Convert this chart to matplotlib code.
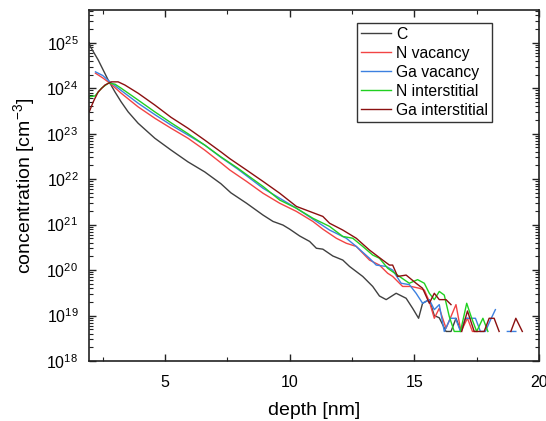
import numpy as np
import matplotlib
matplotlib.use("Agg")
from matplotlib import pyplot as plt
from matplotlib.ticker import LogLocator, MultipleLocator, NullFormatter

plt.rcParams['font.family'] = ['Liberation Sans', 'DejaVu Sans']
plt.rcParams['mathtext.fontset'] = 'custom'
plt.rcParams['mathtext.rm'] = 'Liberation Sans'
plt.rcParams['mathtext.it'] = 'Liberation Sans:italic'

nan = float('nan')

# depth [nm] and log10(concentration [cm^-3])
c_x = [1.96, 2.0, 2.32, 2.72, 2.99, 3.24, 3.52, 3.92, 4.59, 5.24, 5.92, 6.59,
       7.24, 7.64, 8.27, 8.93, 9.33, 9.73, 10.0, 10.4, 10.8, 11.07, 11.33,
       11.73, 12.13, 12.4, 12.93, 13.33, 13.6, 13.87, 14.27, 14.67, 14.93,
       15.17, 15.33, 15.6, 15.8, 16.0, 16.27, 16.47, 16.67, 16.87]
c_log = [25.0, 24.92, 24.62, 24.18, 23.92, 23.70, 23.48, 23.23, 22.9, 22.64,
         22.38, 22.16, 21.9, 21.70, 21.47, 21.21, 21.07, 20.99, 20.90, 20.75,
         20.63, 20.48, 20.46, 20.31, 20.22, 20.08, 19.86, 19.64, 19.43, 19.35,
         19.49, 19.38, 19.16, 18.94, 19.27, 19.35, 19.0, 18.95, 18.65, 18.65,
         18.94, 18.65]

nvac_x = [2.21, 2.52, 2.79, 3.24, 3.92, 4.59, 5.24, 5.92, 6.59, 7.24, 7.6,
          8.27, 8.93, 9.6, 10.27, 10.93, 11.33, 11.87, 12.27, 12.67, 13.2,
          13.6, 13.93, 14.13, 14.53, 14.87, 15.2, 15.4, 15.6, 15.8, 16.0,
          16.27, 16.67, 16.87, 17.13, 17.33, 17.53]
nvac_log = [24.33, 24.22, 24.11, 23.89, 23.59, 23.34, 23.12, 22.9, 22.64,
            22.36, 22.2, 21.95, 21.69, 21.47, 21.29, 21.07, 20.9, 20.70,
            20.59, 20.52, 20.22, 20.11, 19.93, 19.86, 19.64, 19.64, 19.60,
            19.56, 19.31, 18.94, 19.16, 18.72, 19.24, 18.65, 18.94, 18.65,
            18.65]

gavac_x = [2.21, 2.5, 2.79, 3.24, 3.92, 4.59, 5.24, 5.92, 6.59, 7.24, 7.92,
           8.93, 10.27, 11.6, 12.27, 12.67, 13.2, 13.47, 13.87, 14.13, 14.47,
           14.8, 15.07, 15.33, 15.6, 15.8, 16.0, 16.2, 16.45, 16.65, 16.85,
           17.05, 17.45, 17.65, 17.85, 18.05, 18.25, nan, 18.73, 19.07]
gavac_log = [24.36, 24.28, 24.14, 23.95, 23.67, 23.42, 23.19, 22.97, 22.75,
             22.48, 22.22, 21.8, 21.36, 20.88, 20.70, 20.52, 20.26, 20.11,
             20.08, 20.0, 19.71, 19.68, 19.49, 19.27, 19.35, 19.13, 19.24,
             18.65, 18.94, 18.94, 18.65, 18.94, 18.94, 18.65, 18.65, 18.9,
             19.13, nan, 18.65, 18.65]

nint_x = [1.97, 2.19, 2.45, 2.72, 2.99, 3.24, 3.92, 4.59, 5.24, 5.92, 6.59,
          7.24, 7.92, 8.27, 8.93, 9.6, 10.27, 10.93, 11.6, 12.13, 12.53,
          12.93, 13.33, 13.6, 13.93, 14.4, 14.8, 15.13, 15.4, 15.6, 15.8,
          16.0, 16.2, 16.4, 16.6, 16.85, 17.1, 17.3, 17.5, 17.75, 17.95]
nint_log = [23.81, 23.83, 24.0, 24.11, 24.09, 24.0, 23.74, 23.48, 23.24,
            23.0, 22.75, 22.49, 22.24, 22.1, 21.84, 21.54, 21.36, 21.14,
            20.96, 20.74, 20.70, 20.52, 20.33, 20.26, 20.04, 19.86, 19.71,
            19.79, 19.71, 19.49, 19.35, 19.53, 19.45, 18.98, 18.65, 18.65,
            19.27, 18.94, 18.65, 18.94, 18.65]

gaint_x = [1.96, 2.12, 2.32, 2.59, 2.85, 3.12, 3.39, 3.92, 4.59, 5.24, 5.92,
           6.59, 7.24, 7.6, 8.27, 8.93, 9.6, 10.27, 10.8, 11.33, 11.6, 12.13,
           12.67, 13.2, 13.73, 14.0, 14.13, 14.33, 14.67, 15.07, 15.33, 15.6,
           15.8, 16.0, 16.27, 16.47, nan, 16.9, 17.13, 17.4, 17.6, 17.8, 18.0,
           18.2, 18.4, nan, 18.87, 19.07, 19.33]
gaint_log = [23.48, 23.70, 23.92, 24.07, 24.14, 24.14, 24.07, 23.89, 23.63,
             23.36, 23.12, 22.86, 22.6, 22.45, 22.2, 21.95, 21.69, 21.4,
             21.29, 21.18, 21.03, 20.88, 20.70, 20.44, 20.22, 20.11, 20.11,
             19.86, 19.89, 19.71, 19.60, 19.27, 19.49, 19.35, 19.35, 19.24,
             nan, 18.65, 19.1, 18.65, 18.65, 18.65, 18.94, 18.94, 18.65, nan,
             18.65, 18.94, 18.65]

series = [
    ('C', c_x, c_log, '#404040'),
    ('N vacancy', nvac_x, nvac_log, '#f24444'),
    ('Ga vacancy', gavac_x, gavac_log, '#3c80e0'),
    ('N interstitial', nint_x, nint_log, '#20d020'),
    ('Ga interstitial', gaint_x, gaint_log, '#8b1010'),
]

fig = plt.figure(figsize=(5.46, 4.21), dpi=100)
ax = fig.add_axes([0.1639, 0.1425, 0.8233, 0.8337])

for name, xs, logs, col in series:
    ax.plot(xs, np.power(10.0, np.array(logs)), color=col, lw=1.0, label=name)

ax.set_yscale('log')
ax.set_xlim(1.97, 20)
ax.set_ylim(1e18, 10 ** 25.72)
ax.xaxis.set_major_locator(MultipleLocator(5))
ax.xaxis.set_minor_locator(MultipleLocator(2.5))
ax.yaxis.set_major_locator(LogLocator(base=10, numticks=20))
ax.yaxis.set_minor_locator(LogLocator(base=10, subs=np.arange(2, 10), numticks=20))
ax.yaxis.set_minor_formatter(NullFormatter())

ax.tick_params(which='both', direction='in', top=True, right=True,
               labelsize=11.5, colors='#222222', labelcolor='black')
ax.tick_params(which='major', length=5, width=1)
ax.tick_params(which='minor', length=3, width=0.8)
ax.tick_params(axis='x', which='major', pad=10)
ax.tick_params(axis='y', which='major', pad=8)
for sp in ax.spines.values():
    sp.set_linewidth(1.2)
    sp.set_color('#222222')

ax.set_xlabel('depth [nm]', fontsize=14, labelpad=9)
ax.set_ylabel('concentration [cm$^{-3}$]', fontsize=14, labelpad=7)

leg = ax.legend(loc='upper left', bbox_to_anchor=(0.595, 0.963),
                borderaxespad=0, fontsize=11.3, frameon=True, fancybox=False,
                handlelength=1.95, handletextpad=0.3, labelspacing=0.25,
                borderpad=0.25)
leg.get_frame().set_edgecolor('#333333')
leg.get_frame().set_linewidth(1.0)
leg.get_frame().set_alpha(1)

fig.savefig('out.png', dpi=100)
